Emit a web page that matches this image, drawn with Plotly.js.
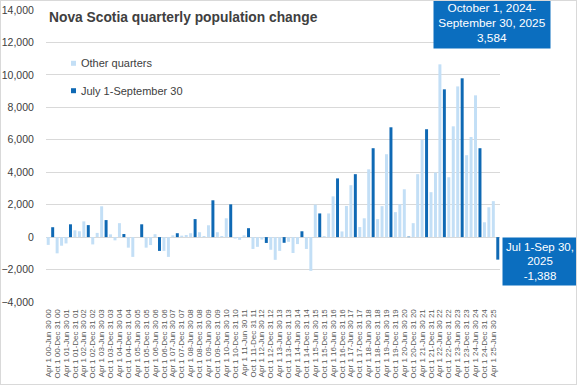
<!DOCTYPE html>
<html>
<head>
<meta charset="utf-8">
<script src="https://cdn.plot.ly/plotly-3.0.1.min.js"></script>
<style>
  html, body { margin: 0; padding: 0; background: #fff; }
  #wrap { position: relative; width: 577px; height: 385px; }
  #chart { width: 577px; height: 385px; }
  #frame { position: absolute; left: 0; top: 0; width: 577px; height: 385px; box-sizing: border-box; border: 1px solid #D9D9D9; pointer-events: none; }
</style>
</head>
<body>
<div id="wrap"><div id="chart"></div><div id="frame"></div></div>
<script>
// Quarter categories (Apr 2000 – Sep 2025)
const categories = [
  "Apr 1 00-Jun 30 00","Jul 1 00-Sep 30 00","Oct 1 00-Dec 31 00",
  "Jan 1 01-Mar 31 01","Apr 1 01-Jun 30 01","Jul 1 01-Sep 30 01","Oct 1 01-Dec 31 01",
  "Jan 1 02-Mar 31 02","Apr 1 02-Jun 30 02","Jul 1 02-Sep 30 02","Oct 1 02-Dec 31 02",
  "Jan 1 03-Mar 31 03","Apr 1 03-Jun 30 03","Jul 1 03-Sep 30 03","Oct 1 03-Dec 31 03",
  "Jan 1 04-Mar 31 04","Apr 1 04-Jun 30 04","Jul 1 04-Sep 30 04","Oct 1 04-Dec 31 04",
  "Jan 1 05-Mar 31 05","Apr 1 05-Jun 30 05","Jul 1 05-Sep 30 05","Oct 1 05-Dec 31 05",
  "Jan 1 06-Mar 31 06","Apr 1 06-Jun 30 06","Jul 1 06-Sep 30 06","Oct 1 06-Dec 31 06",
  "Jan 1 07-Mar 31 07","Apr 1 07-Jun 30 07","Jul 1 07-Sep 30 07","Oct 1 07-Dec 31 07",
  "Jan 1 08-Mar 31 08","Apr 1 08-Jun 30 08","Jul 1 08-Sep 30 08","Oct 1 08-Dec 31 08",
  "Jan 1 09-Mar 31 09","Apr 1 09-Jun 30 09","Jul 1 09-Sep 30 09","Oct 1 09-Dec 31 09",
  "Jan 1 10-Mar 31 10","Apr 1 10-Jun 30 10","Jul 1 10-Sep 30 10","Oct 1 10-Dec 31 10",
  "Jan 1 11-Mar 31 11","Apr 1 11-Jun 30 11","Jul 1 11-Sep 30 11","Oct 1 11-Dec 31 11",
  "Jan 1 12-Mar 31 12","Apr 1 12-Jun 30 12","Jul 1 12-Sep 30 12","Oct 1 12-Dec 31 12",
  "Jan 1 13-Mar 31 13","Apr 1 13-Jun 30 13","Jul 1 13-Sep 30 13","Oct 1 13-Dec 31 13",
  "Jan 1 14-Mar 31 14","Apr 1 14-Jun 30 14","Jul 1 14-Sep 30 14","Oct 1 14-Dec 31 14",
  "Jan 1 15-Mar 31 15","Apr 1 15-Jun 30 15","Jul 1 15-Sep 30 15","Oct 1 15-Dec 31 15",
  "Jan 1 16-Mar 31 16","Apr 1 16-Jun 30 16","Jul 1 16-Sep 30 16","Oct 1 16-Dec 31 16",
  "Jan 1 17-Mar 31 17","Apr 1 17-Jun 30 17","Jul 1 17-Sep 30 17","Oct 1 17-Dec 31 17",
  "Jan 1 18-Mar 31 18","Apr 1 18-Jun 30 18","Jul 1 18-Sep 30 18","Oct 1 18-Dec 31 18",
  "Jan 1 19-Mar 31 19","Apr 1 19-Jun 30 19","Jul 1 19-Sep 30 19","Oct 1 19-Dec 31 19",
  "Jan 1 20-Mar 31 20","Apr 1 20-Jun 30 20","Jul 1 20-Sep 30 20","Oct 1 20-Dec 31 20",
  "Jan 1 21-Mar 31 21","Apr 1 21-Jun 30 21","Jul 1 21-Sep 30 21","Oct 1 21-Dec 31 21",
  "Jan 1 22-Mar 31 22","Apr 1 22-Jun 30 22","Jul 1 22-Sep 30 22","Oct 1 22-Dec 31 22",
  "Jan 1 23-Mar 31 23","Apr 1 23-Jun 30 23","Jul 1 23-Sep 30 23","Oct 1 23-Dec 31 23",
  "Jan 1 24-Mar 31 24","Apr 1 24-Jun 30 24","Jul 1 24-Sep 30 24","Oct 1 24-Dec 31 24",
  "Jan 1 25-Mar 31 25","Apr 1 25-Jun 30 25","Jul 1 25-Sep 30 25"
];

// Other quarters (null at July 1-September 30 quarters)
const otherQuarters = [
  -480, null, -1000,
  -530, -390, null, 420,
  360, 970, null, -450,
  260, 1900, null, 170,
  -200, 860, null, -650,
  -1220, 10, null, -650,
  -490, 180, null, -850,
  -1220, 110, null, 90,
  130, 240, null, 300,
  70, 730, null, 300,
  70, 1160, null, -90,
  -170, 110, null, -730,
  -600, -150, null, -780,
  -1400, -850, null, -290,
  -980, -430, null, -730,
  -2080, 2000, null, 60,
  1460, 2510, null, 350,
  1920, 3200, null, 620,
  1160, 4180, null, 1110,
  1910, 5110, null, 1540,
  2030, 2950, null, 860,
  3880, 5990, null, 2770,
  3980, 10650, null, 3690,
  6830, 9290, null, 5050,
  6170, 8740, null, 915,
  1840, 2217, null
];

// July 1-September 30 quarters
const julySeptember = [
  null, 610, null,
  null, null, 790, null,
  null, null, 740, null,
  null, null, 1050, null,
  null, null, 190, null,
  null, null, 790, null,
  null, null, -850, null,
  null, null, 240, null,
  null, null, 1110, null,
  null, null, 2270, null,
  null, null, 2020, null,
  null, null, 550, null,
  null, null, -360, null,
  null, null, -350, null,
  null, null, 360, null,
  null, null, 1460, null,
  null, null, 3620, null,
  null, null, 3880, null,
  null, null, 5480, null,
  null, null, 6770, null,
  null, null, 30, null,
  null, null, 6650, null,
  null, null, 9110, null,
  null, null, 9790, null,
  null, null, 5480, null,
  null, null, -1388
];

const seriesNames = ["Other quarters", "July 1-September 30"];
const tickLabels = categories.filter((c, i) => i % 2 === 0);
const calloutTexts = [
  "October 1, 2024-<br>September 30, 2025<br>3,584",
  "Jul 1-Sep 30,<br>2025<br>-1,388"
];

const LIGHT = "#C3DFF6", DARK = "#0F69B4", BOX = "#0B6EBF";
const W = 577, H = 385;
const mL = 46, mR = 77, mT = 10, mB = 83;
const px = p => (p - mL) / (W - mL - mR);
const py = p => (H - mB - p) / (H - mT - mB);
const FONT = "Liberation Sans, Arial, sans-serif";

const traces = [
  { type: "bar", name: seriesNames[0], x: categories, y: otherQuarters, marker: { color: LIGHT }, showlegend: false, hoverinfo: "x+y" },
  { type: "bar", name: seriesNames[1], x: categories, y: julySeptember, marker: { color: DARK }, showlegend: false, hoverinfo: "x+y" }
];

const layout = {
  width: W, height: H,
  margin: { l: mL, r: mR, t: mT, b: mB, pad: 0 },
  paper_bgcolor: "#ffffff", plot_bgcolor: "#ffffff",
  barmode: "overlay", bargap: 0.33,
  showlegend: false,
  font: { family: FONT, color: "#404040" },
  title: {
    text: "Nova Scotia quarterly population change",
    font: { family: FONT, size: 13.8, weight: "bold", color: "#404040" },
    xref: "container", yref: "container", x: 49 / W, xanchor: "left", y: 1 - 17 / H, yanchor: "middle"
  },
  xaxis: {
    type: "category", categoryorder: "array", categoryarray: categories,
    range: [-0.5, categories.length - 0.5],
    tickmode: "array", tickvals: tickLabels, ticktext: tickLabels,
    tickangle: -90, tickfont: { size: 8, color: "#595959", family: FONT },
    showgrid: false, zeroline: false, showline: false, ticks: "outside", ticklen: 3, tickcolor: "rgba(0,0,0,0)",
    fixedrange: true
  },
  yaxis: {
    range: [-4000, 14000], tickmode: "linear", tick0: 0, dtick: 2000, tickformat: ",d",
    tickfont: { size: 10.5, color: "#404040", family: FONT },
    showgrid: true, gridcolor: "#D9D9D9", gridwidth: 1, zeroline: false, showline: false,
    ticks: "outside", ticklen: 9, tickcolor: "rgba(0,0,0,0)", fixedrange: true
  },
  shapes: [
    { type: "rect", xref: "paper", yref: "paper", x0: px(71), x1: px(76), y0: py(65.8), y1: py(60.8), fillcolor: LIGHT, line: { width: 0 } },
    { type: "rect", xref: "paper", yref: "paper", x0: px(71), x1: px(76), y0: py(93.2), y1: py(88.2), fillcolor: DARK, line: { width: 0 } }
  ],
  annotations: [
    { xref: "paper", yref: "paper", x: px(79), y: py(63.3), xanchor: "left", yanchor: "middle", showarrow: false, text: seriesNames[0], font: { size: 11, color: "#404040", family: FONT } },
    { xref: "paper", yref: "paper", x: px(79), y: py(90.7), xanchor: "left", yanchor: "middle", showarrow: false, text: seriesNames[1], font: { size: 11, color: "#404040", family: FONT } },
    { xref: "paper", yref: "paper", x: px(492), y: py(23), xanchor: "center", yanchor: "middle", showarrow: false,
      text: calloutTexts[0], bgcolor: BOX, borderpad: 2, width: 112, height: 46, align: "center",
      font: { size: 11.8, color: "#ffffff", family: FONT } },
    { xref: "paper", yref: "paper", x: px(540), y: py(261.5), xanchor: "center", yanchor: "middle", showarrow: false,
      text: calloutTexts[1], bgcolor: BOX, borderpad: 2, width: 70, height: 43, align: "center",
      font: { size: 11.5, color: "#ffffff", family: FONT } }
  ]
};

Plotly.newPlot("chart", traces, layout, { displayModeBar: false, staticPlot: true });
</script>
</body>
</html>
